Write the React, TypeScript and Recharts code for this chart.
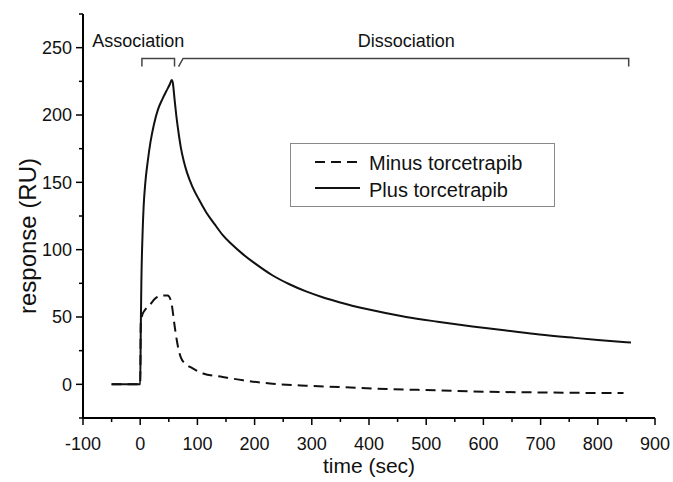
import React from 'react';
import { LineChart, Line, XAxis, YAxis, Legend, ReferenceDot } from 'recharts';

// time (sec) / response (RU)
const minusTime = [-50, 0, 1, 4, 8, 15, 27, 40, 48, 53, 56, 59, 62, 66, 71, 80, 91, 110, 144, 180, 231, 290, 348, 430, 523, 600, 698, 760, 845];
const minusResp = [0, 0, 45, 52, 55, 58, 64, 66, 66, 63, 57, 47, 38, 28, 20, 15, 12, 8, 5.5, 3, 0.5, -1, -2, -3.5, -4.5, -5.5, -6, -6.3, -6.5];

const plusTime = [-50, 0, 1, 2, 4, 6, 9, 13, 18, 24, 31, 39, 46, 52, 55, 57, 60, 63, 67, 71, 76, 82, 91, 103, 115, 130, 144, 160, 180, 200, 231, 260, 290, 320, 348, 400, 465, 520, 581, 640, 698, 760, 800, 858];
const plusResp = [0, 0, 40, 75, 110, 132, 150, 165, 180, 193, 204, 212, 218, 223, 226, 224, 212, 200, 187, 176, 166, 157, 147, 137, 128, 119, 111, 104, 96.5, 90, 81, 74.5, 69, 64.5, 61, 55.5, 50, 46.5, 43, 40, 37, 34.5, 33, 31];

// phase brackets above the curves
const assocTime = [3, 3, 60, 60];
const assocResp = [236, 242, 242, 236];
const dissocTime = [67, 75, 854, 854];
const dissocResp = [236, 242, 242, 236];

const xTicks = [-100, -50, 0, 50, 100, 150, 200, 250, 300, 350, 400, 450, 500, 550, 600, 650, 700, 750, 800, 850, 900];
const yTicks = [-25, 0, 25, 50, 75, 100, 125, 150, 175, 200, 225, 250, 275];

const seriesNames = ['Minus torcetrapib', 'Plus torcetrapib'];

const FONT = '"Liberation Sans", Arial, Helvetica, sans-serif';

const toRows = (ts: number[], rs: number[]) => ts.map((t, i) => ({ t, r: rs[i] }));

const minusData = toRows(minusTime, minusResp);
const plusData = toRows(plusTime, plusResp);
const assocData = toRows(assocTime, assocResp);
const dissocData = toRows(dissocTime, dissocResp);

const XTick = (props: any) => {
    const { x, y, payload } = props;
    const major = payload.value % 100 === 0;
    return (
        <g>
            <line x1={x} x2={x} y1={y} y2={y + (major ? 7 : 4)} stroke="#000" strokeWidth={1.5} />
            {major && (
                <text x={x} y={y + 32} textAnchor="middle" fontSize={18} fontFamily={FONT} fill="#111">
                    {payload.value}
                </text>
            )}
        </g>
    );
};

const YTick = (props: any) => {
    const { x, y, payload } = props;
    const v = payload.value;
    const major = v % 50 === 0;
    return (
        <g>
            <line x1={x - (major ? 7 : 4)} x2={x} y1={y} y2={y} stroke="#000" strokeWidth={1.5} />
            {major && (
                <text x={x - 11} y={y} dy="0.35em" textAnchor="end" fontSize={18} fontFamily={FONT} fill="#111">
                    {v}
                </text>
            )}
        </g>
    );
};

const LegendBox = (props: any) => {
    const items = (props.payload || []).filter((p: any) => seriesNames.includes(p.value));
    return (
        <svg width={265} height={64} style={{ display: 'block' }}>
            <rect x={0.5} y={0.5} width={264} height={63} fill="#fff" stroke="#888" strokeWidth={1} />
            {items.map((p: any, i: number) => (
                <g key={p.value}>
                    <line
                        x1={25}
                        x2={70}
                        y1={19 + i * 26}
                        y2={19 + i * 26}
                        stroke="#111"
                        strokeWidth={2}
                        strokeDasharray={p.payload?.strokeDasharray}
                    />
                    <text x={79} y={27 + i * 27} fontSize={20} fontFamily={FONT} fill="#111">
                        {p.value}
                    </text>
                </g>
            ))}
        </svg>
    );
};

const phaseLabel = (text: string, anchor: 'start' | 'middle') => (props: any) => {
    const vb = props.viewBox || {};
    return (
        <text x={vb.x} y={vb.y} textAnchor={anchor} fontSize={18} fontFamily={FONT} fill="#111">
            {text}
        </text>
    );
};

export default function App() {
    return (
        <div style={{ position: 'absolute', left: 0, top: 0, background: '#fff' }}>
            <LineChart width={673} height={482} margin={{ top: 14, right: 18, bottom: 0, left: 0 }}>
                <XAxis
                    type="number"
                    dataKey="t"
                    domain={[-100, 900]}
                    ticks={xTicks}
                    interval={0}
                    height={64}
                    tickSize={0}
                    tickMargin={0}
                    tickLine={false}
                    tick={<XTick />}
                    axisLine={{ stroke: '#000', strokeWidth: 2 }}
                    allowDataOverflow
                    label={(p: any) => {
                        const vb = p.viewBox;
                        return (
                            <text x={vb.x + vb.width / 2} y={473} textAnchor="middle" fontSize={21} fontFamily={FONT} fill="#111">
                                time (sec)
                            </text>
                        );
                    }}
                />
                <YAxis
                    type="number"
                    domain={[-25, 275]}
                    ticks={yTicks}
                    interval={0}
                    width={83}
                    tickSize={0}
                    tickMargin={0}
                    tickLine={false}
                    tick={<YTick />}
                    axisLine={{ stroke: '#000', strokeWidth: 2 }}
                    allowDataOverflow
                    label={() => {
                        const cx = 28;
                        const cy = 236;
                        return (
                            <text
                                x={cx}
                                y={cy}
                                dy="0.35em"
                                transform={`rotate(-90 ${cx} ${cy})`}
                                textAnchor="middle"
                                fontSize={24}
                                fontFamily={FONT}
                                fill="#111"
                            >
                                response (RU)
                            </text>
                        );
                    }}
                />
                <Legend
                    layout="horizontal"
                    verticalAlign="middle"
                    align="center"
                    content={<LegendBox />}
                    wrapperStyle={{ left: 290, top: 143, width: 265, height: 64 }}
                />
                <Line
                    data={minusData}
                    dataKey="r"
                    name={seriesNames[0]}
                    type="monotone"
                    stroke="#111"
                    strokeWidth={2}
                    strokeDasharray="10 6"
                    dot={false}
                    activeDot={false}
                    isAnimationActive={false}
                />
                <Line
                    data={plusData}
                    dataKey="r"
                    name={seriesNames[1]}
                    type="monotone"
                    stroke="#111"
                    strokeWidth={2}
                    dot={false}
                    activeDot={false}
                    isAnimationActive={false}
                />
                <Line data={assocData} dataKey="r" name="assoc" type="linear" stroke="#444" strokeWidth={1.5} dot={false} activeDot={false} legendType="none" isAnimationActive={false} />
                <Line data={dissocData} dataKey="r" name="dissoc" type="linear" stroke="#444" strokeWidth={1.5} dot={false} activeDot={false} legendType="none" isAnimationActive={false} />
                <ReferenceDot x={-84} y={250.5} r={0} stroke="none" fill="none" label={phaseLabel('Association', 'start')} />
                <ReferenceDot x={465} y={250.5} r={0} stroke="none" fill="none" label={phaseLabel('Dissociation', 'middle')} />
            </LineChart>
        </div>
    );
}
